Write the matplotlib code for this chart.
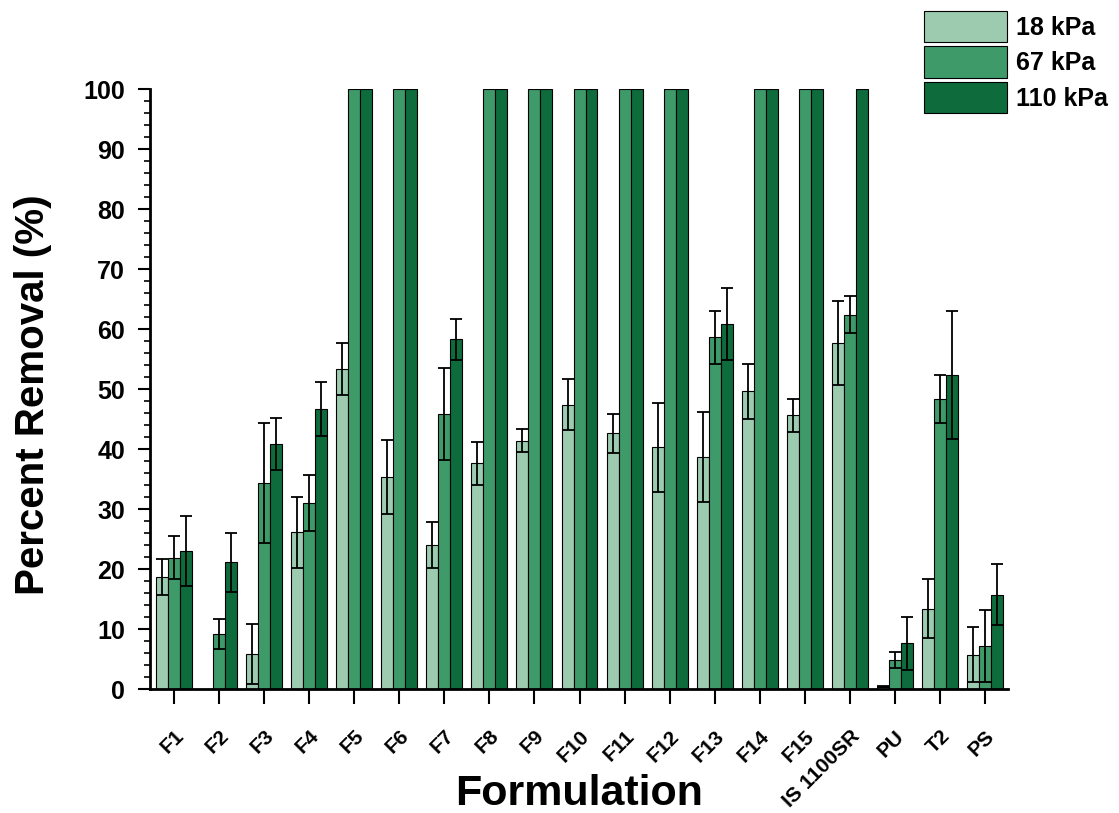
import numpy as np
import matplotlib
matplotlib.use("Agg")
import matplotlib.pyplot as plt
import matplotlib.transforms as mtransforms
from matplotlib.ticker import MultipleLocator

plt.rcParams['font.family'] = ['Liberation Sans', 'DejaVu Sans']
plt.rcParams['font.weight'] = 'bold'

formulations = ["F1", "F2", "F3", "F4", "F5", "F6", "F7", "F8", "F9", "F10",
                "F11", "F12", "F13", "F14", "F15", "IS 1100SR", "PU", "T2", "PS"]

# percent removal at each pressure, and standard deviations
kpa18 = [18.7, 0, 5.8, 26.1, 53.3, 35.3, 24.0, 37.6, 41.4, 47.4,
         42.6, 40.3, 38.6, 49.6, 45.6, 57.6, 0.4, 13.4, 5.7]
err18 = [3.0, 0, 5.0, 5.9, 4.3, 6.2, 3.8, 3.6, 1.9, 4.2,
         3.3, 7.4, 7.5, 4.6, 2.7, 7.0, 0.1, 4.9, 4.6]
kpa67 = [21.9, 9.1, 34.3, 31.0, 100, 100, 45.8, 100, 100, 100,
         100, 100, 58.6, 100, 100, 62.4, 4.8, 48.3, 7.2]
err67 = [3.6, 2.5, 10.0, 4.6, 0, 0, 7.7, 0, 0, 0,
         0, 0, 4.4, 0, 0, 3.1, 1.3, 4.0, 6.0]
kpa110 = [23.0, 21.1, 40.8, 46.7, 100, 100, 58.3, 100, 100, 100,
          100, 100, 60.8, 100, 100, 100, 7.6, 52.3, 15.7]
err110 = [5.8, 4.9, 4.3, 4.5, 0, 0, 3.4, 0, 0, 0,
          0, 0, 6.0, 0, 0, 0, 4.4, 10.7, 5.1]

labels = ["18 kPa", "67 kPa", "110 kPa"]
colors = ["#9ccbb0", "#3f9a6a", "#0d6b3c"]

fig = plt.figure(figsize=(11.19, 8.13), dpi=100)
ax = fig.add_axes([150/1119, 124/813, 858/1119, 600/813])

x = np.arange(len(formulations))
w = 0.266
series = [(kpa18, err18), (kpa67, err67), (kpa110, err110)]
for i, (vals, errs) in enumerate(series):
    xs = x + (i - 1) * w
    vals = np.array(vals, dtype=float)
    errs = np.array(errs, dtype=float)
    ax.bar(xs, vals, width=w, color=colors[i], edgecolor="black",
           linewidth=0.8, label=labels[i], zorder=2)
    m = errs > 0
    ax.errorbar(xs[m], vals[m], yerr=errs[m], fmt="none", ecolor="black",
                elinewidth=1.3, capsize=4.5, capthick=1.3, zorder=3)

ax.set_xlim(-0.533, 18.51)
ax.set_ylim(0, 100)
ax.yaxis.set_major_locator(MultipleLocator(10))
ax.yaxis.set_minor_locator(MultipleLocator(2))
ax.set_xticks(x)
ax.set_xticklabels(formulations, rotation=45, ha="right", va="top",
                   rotation_mode="anchor", fontsize=15, fontweight="bold")
shift = mtransforms.ScaledTranslation(4/100, 3/100, fig.dpi_scale_trans)
for lab in ax.get_xticklabels():
    lab.set_transform(lab.get_transform() + shift)
for lab in ax.get_yticklabels():
    lab.set_fontweight("bold")

for s in ["top", "right"]:
    ax.spines[s].set_visible(False)
for s in ["left", "bottom"]:
    ax.spines[s].set_linewidth(2)

ax.tick_params(axis="y", which="major", direction="out", length=9, width=1.5,
               labelsize=18, pad=9)
ax.tick_params(axis="y", which="minor", direction="out", length=4.5, width=1.2)
ax.tick_params(axis="x", which="major", direction="out", length=11, width=1.5,
               pad=16)

ax.set_ylabel("Percent Removal (%)", fontsize=29, fontweight="bold")
ax.yaxis.set_label_coords(-0.114, 0.49)
ax.set_xlabel("Formulation", fontsize=31, fontweight="bold")
ax.xaxis.set_label_coords(0.5, -0.142)

fig.legend(loc="upper left", bbox_to_anchor=(924/1119, 1 - 11/813),
           frameon=False, fontsize=18, handleheight=1.56, handlelength=3.3,
           labelspacing=0.16, handletextpad=0.36, borderpad=0,
           borderaxespad=0, prop={"weight": "bold", "size": 18})

fig.savefig("out.png", dpi=100)
